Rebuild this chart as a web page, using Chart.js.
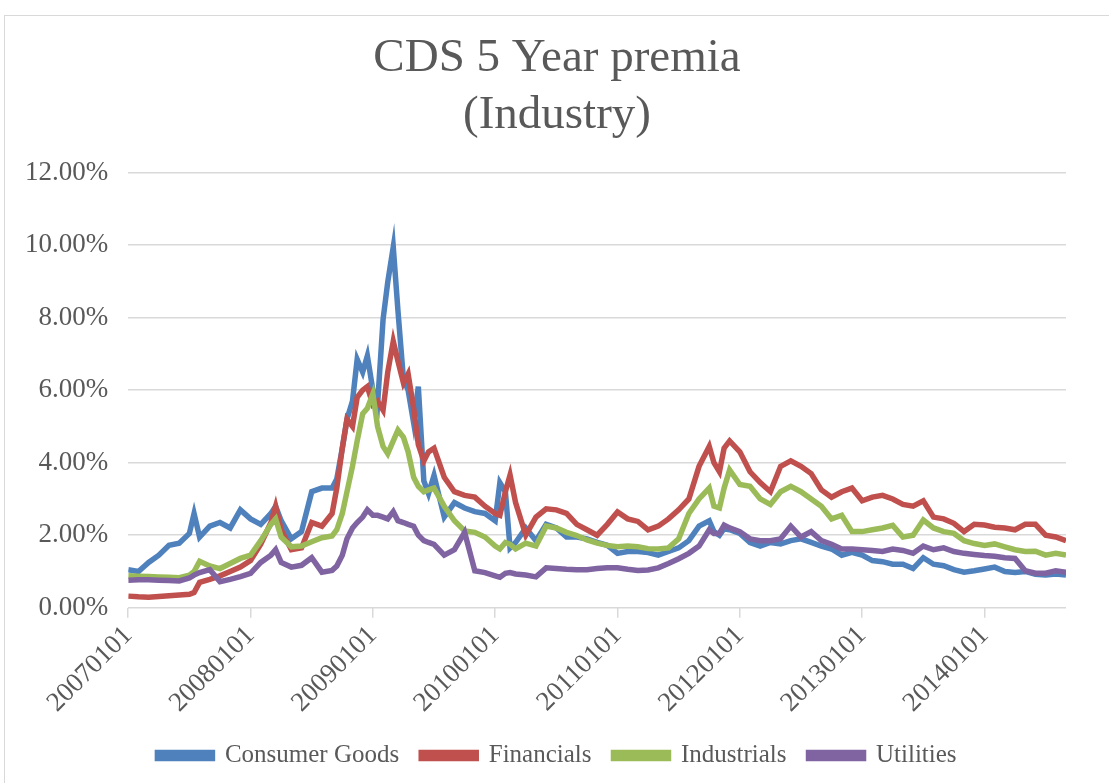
<!DOCTYPE html>
<html>
<head>
<meta charset="utf-8">
<title>CDS 5 Year premia (Industry)</title>
<script src="https://cdn.jsdelivr.net/npm/chart.js@4"></script>
<style>
  html, body { margin: 0; padding: 0; background: #fff; }
  #frame {
    position: absolute; left: 4px; top: 15px;
    width: 1104px; height: 770px;
    border: 1px solid #d9d9d9;
  }
  #wrap { position: relative; width: 1104px; height: 768px; }
</style>
</head>
<body>
<div id="frame"><div id="wrap"><canvas id="cdsChart"></canvas></div></div>
<script>
const dates = [
  "20070101","20070201","20070301","20070401","20070501","20070601","20070701","20070715","20070801","20070901","20071001","20071101","20071201",
  "20080101","20080201","20080301","20080315","20080401","20080501","20080601","20080701","20080801","20080901","20080915","20081001","20081015","20081101","20081115","20081201","20081215",
  "20090101","20090115","20090201","20090215","20090301","20090315","20090401","20090415","20090501","20090515","20090601","20090615","20090701","20090801","20090901","20091001","20091101","20091201",
  "20100101","20100115","20100201","20100215","20100301","20100401","20100501","20100601","20100701","20100801","20100901","20101001","20101101","20101201",
  "20110101","20110201","20110301","20110401","20110501","20110601","20110701","20110801","20110901","20111001","20111015","20111101","20111115","20111201",
  "20120101","20120201","20120301","20120401","20120501","20120601","20120701","20120801","20120901","20121001","20121101","20121201",
  "20130101","20130201","20130301","20130401","20130501","20130601","20130701","20130801","20130901","20131001","20131101","20131201",
  "20140101","20140201","20140301","20140401","20140501","20140601","20140701","20140801","20140901"
];

// CDS premia in percent
const consumerGoods = [
  1.05,1.00,1.25,1.45,1.72,1.78,2.05,2.60,1.95,2.25,2.35,2.20,2.70,
  2.45,2.30,2.60,2.80,2.40,1.90,2.10,3.20,3.30,3.30,3.55,4.40,5.20,5.70,6.85,6.50,6.95,
  6.00,5.60,7.95,8.98,9.95,8.20,6.30,6.00,5.10,6.10,3.50,3.15,3.65,2.50,2.90,2.75,2.65,2.60,
  2.40,3.45,3.20,1.65,1.80,2.20,1.85,2.30,2.20,1.95,1.95,1.90,1.80,1.72,
  1.50,1.55,1.55,1.52,1.45,1.55,1.65,1.85,2.25,2.40,2.10,2.00,2.18,2.15,
  2.05,1.80,1.70,1.80,1.76,1.85,1.90,1.80,1.70,1.62,1.45,1.53,
  1.45,1.30,1.27,1.20,1.20,1.08,1.38,1.20,1.16,1.05,0.98,1.02,
  1.07,1.12,1.00,0.97,1.00,0.92,0.90,0.93,0.90
];
const financials = [
  0.32,0.30,0.29,0.31,0.33,0.35,0.37,0.42,0.70,0.78,0.88,1.00,1.12,
  1.30,1.75,2.35,2.80,2.15,1.60,1.65,2.35,2.25,2.60,3.30,4.40,5.20,5.00,5.80,6.00,6.10,
  5.60,5.70,5.45,6.50,7.35,6.80,6.20,6.45,5.50,4.50,4.05,4.30,4.40,3.60,3.20,3.10,3.05,2.80,
  2.60,2.55,3.20,3.66,2.90,2.00,2.50,2.73,2.70,2.60,2.30,2.15,2.00,2.30,
  2.64,2.45,2.38,2.15,2.25,2.45,2.70,3.00,3.90,4.45,4.00,3.75,4.40,4.60,
  4.30,3.75,3.45,3.20,3.90,4.05,3.90,3.70,3.25,3.05,3.20,3.30,
  2.95,3.05,3.10,3.00,2.85,2.80,2.95,2.50,2.45,2.33,2.10,2.30,
  2.28,2.22,2.20,2.15,2.30,2.30,2.00,1.95,1.85
];
const industrials = [
  0.88,0.87,0.86,0.85,0.84,0.83,0.90,1.00,1.28,1.15,1.08,1.22,1.36,
  1.45,1.85,2.30,2.45,1.95,1.68,1.70,1.82,1.93,1.98,2.15,2.60,3.20,3.90,4.60,5.35,5.50,
  5.90,5.00,4.45,4.25,4.60,4.90,4.70,4.30,3.60,3.35,3.20,3.25,3.30,2.80,2.40,2.12,2.08,1.95,
  1.70,1.62,1.80,1.75,1.62,1.78,1.70,2.25,2.20,2.08,1.99,1.87,1.78,1.72,
  1.68,1.70,1.68,1.63,1.62,1.65,1.90,2.60,3.00,3.30,2.80,2.75,3.30,3.80,
  3.40,3.35,3.00,2.85,3.20,3.35,3.20,3.00,2.80,2.45,2.55,2.10,
  2.10,2.15,2.20,2.27,1.95,2.00,2.42,2.20,2.10,2.05,1.85,1.77,
  1.72,1.76,1.68,1.60,1.55,1.56,1.45,1.50,1.45
];
const utilities = [
  0.76,0.77,0.77,0.76,0.75,0.74,0.82,0.90,0.97,1.05,0.72,0.78,0.86,
  0.95,1.25,1.45,1.60,1.25,1.12,1.17,1.38,0.98,1.03,1.15,1.45,1.90,2.20,2.35,2.50,2.70,
  2.55,2.55,2.50,2.45,2.65,2.40,2.35,2.30,2.25,2.00,1.85,1.80,1.75,1.45,1.60,2.08,1.02,0.97,
  0.88,0.84,0.95,0.97,0.93,0.90,0.85,1.10,1.08,1.06,1.05,1.05,1.08,1.10,
  1.10,1.06,1.03,1.04,1.10,1.22,1.35,1.50,1.70,2.15,2.05,2.05,2.28,2.20,
  2.10,1.90,1.85,1.85,1.90,2.25,1.95,2.10,1.85,1.75,1.62,1.62,
  1.60,1.58,1.55,1.62,1.58,1.50,1.70,1.60,1.65,1.55,1.50,1.47,
  1.44,1.42,1.38,1.36,1.02,0.95,0.95,1.02,0.98
];

const yTicks = [0, 2, 4, 6, 8, 10, 12];
const yearTicks = [2007, 2008, 2009, 2010, 2011, 2012, 2013, 2014];

// "20080315" -> 2008.2 (fraction of year)
function toYear(s) {
  const y = +s.slice(0, 4), m = +s.slice(4, 6), d = +s.slice(6, 8);
  return y + ((m - 1) + (d - 1) / 30.5) / 12;
}
const xs = dates.map(toYear);
const pts = (vals) => vals.map((v, i) => ({ x: xs[i], y: v }));

const serif = "'Liberation Serif', 'Times New Roman', serif";
const grey = "#595959";

function series(label, vals, color, order) {
  return {
    label: label,
    data: pts(vals),
    borderColor: color,
    backgroundColor: color,
    borderWidth: 5.5,
    pointRadius: 0,
    tension: 0,
    order: order,
  };
}

new Chart(document.getElementById("cdsChart"), {
  type: "line",
  data: {
    datasets: [
      series("Consumer Goods", consumerGoods, "#4F81BD", 4),
      series("Financials", financials, "#C0504D", 3),
      series("Industrials", industrials, "#9BBB59", 2),
      series("Utilities", utilities, "#8064A2", 1),
    ],
  },
  options: {
    responsive: true,
    maintainAspectRatio: false,
    animation: false,
    layout: { padding: { left: 0, right: 0, top: 0, bottom: 6 } },
    plugins: {
      title: {
        display: true,
        text: ["CDS 5 Year premia", "(Industry)"],
        color: grey,
        font: { family: serif, size: 47, weight: "normal", lineHeight: 1.22 },
        padding: { top: 14, bottom: 28 },
      },
      legend: {
        position: "bottom",
        reverse: true,
        labels: {
          color: grey,
          font: { family: serif, size: 25 },
          boxWidth: 55,
          boxHeight: 6,
          padding: 22,
        },
      },
      tooltip: { enabled: false },
    },
    scales: {
      x: {
        type: "linear",
        min: toYear(dates[0]),
        max: toYear(dates[dates.length - 1]),
        afterBuildTicks: (axis) => {
          axis.ticks = yearTicks.map((v) => ({ value: v }));
        },
        ticks: {
          autoSkip: false,
          maxRotation: 45,
          minRotation: 45,
          color: grey,
          font: { family: serif, size: 27 },
          padding: 2,
          callback: (v) => v + "0101",
        },
        grid: {
          drawOnChartArea: false,
          drawTicks: true,
          tickLength: 10,
          color: "#d9d9d9",
          lineWidth: 1.5,
        },
        border: { display: false },
      },
      y: {
        min: 0,
        max: 12,
        afterBuildTicks: (axis) => {
          axis.ticks = yTicks.map((v) => ({ value: v }));
        },
        ticks: {
          color: grey,
          font: { family: serif, size: 27 },
          padding: 20,
          callback: (v) => v.toFixed(2) + "%",
        },
        grid: { color: "#d9d9d9", lineWidth: 1.5, drawTicks: false },
        border: { display: false },
      },
      // empty right-hand margin so title and legend stay centred on the frame
      gap: {
        type: "linear",
        position: "right",
        ticks: { display: false },
        grid: { display: false, drawTicks: false },
        border: { display: false },
        afterFit: (axis) => { axis.width = 43; },
      },
    },
  },
});
</script>
</body>
</html>
